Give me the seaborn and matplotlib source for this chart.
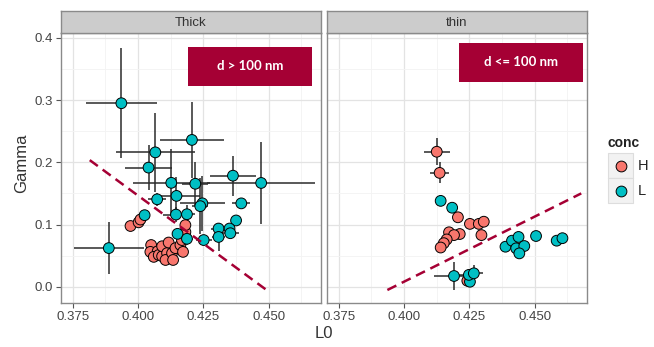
import pandas as pd
import matplotlib
matplotlib.use('agg')
import matplotlib.pyplot as plt
import seaborn as sns
from matplotlib.patches import Rectangle

# ---- data ----
# Thick films, conc = L  (L0, Gamma, L0 error, Gamma error)
thick_L_x = [0.3936, 0.3888, 0.4206, 0.4066, 0.4040, 0.4127, 0.4219, 0.4363, 0.4471, 0.4073,
             0.4147, 0.4246, 0.4238, 0.4395, 0.4145, 0.4187, 0.4025, 0.4375, 0.4151, 0.4187,
             0.4251, 0.4308, 0.4308, 0.4350, 0.4353]
thick_L_y = [0.2950, 0.0621, 0.2360, 0.2160, 0.1915, 0.1670, 0.1655, 0.1785, 0.1668, 0.1405,
             0.1460, 0.1340, 0.1295, 0.1340, 0.1160, 0.1165, 0.1150, 0.1065, 0.0850, 0.0770,
             0.0750, 0.0935, 0.0800, 0.0935, 0.0860]
thick_L_xerr = [0.0137, 0.0135, 0.0122, 0.0150, 0.0090, 0.0147, 0.0050, 0.0088, 0.0206, 0.0035,
                0.0090, 0.0086, 0.0030, 0.0035, 0.0050, 0.0030, 0.0015, 0.0020, 0.0020, 0.0025,
                0.0030, 0.0030, 0.0025, 0.0020, 0.0035]
thick_L_yerr = [0.088, 0.042, 0.061, 0.063, 0.036, 0.054, 0.035, 0.032, 0.066, 0.010,
                0.030, 0.044, 0.045, 0.008, 0.012, 0.015, 0.004, 0.005, 0.008, 0.010,
                0.004, 0.005, 0.022, 0.004, 0.005]

# Thick films, conc = H
thick_H_x = [0.3971, 0.4002, 0.4009, 0.4050, 0.4047, 0.4075, 0.4060, 0.4079, 0.4092, 0.4092,
             0.4111, 0.4117, 0.4105, 0.4130, 0.4134, 0.4143, 0.4162, 0.4172, 0.4168, 0.4181, 0.4181]
thick_H_y = [0.0976, 0.1035, 0.1080, 0.0670, 0.0560, 0.0570, 0.0480, 0.0510, 0.0490, 0.0650,
             0.0540, 0.0710, 0.0430, 0.0540, 0.0430, 0.0620, 0.0670, 0.0560, 0.0750, 0.0880, 0.0990]
thick_H_xerr = [0.001] * 21
thick_H_yerr = [0.003] * 21

# Thin films, conc = H
thin_H_x = [0.4125, 0.4136, 0.4206, 0.4252, 0.4286, 0.4305, 0.4296, 0.4172, 0.4213, 0.4191,
            0.4163, 0.4152, 0.4140, 0.4242]
thin_H_y = [0.2170, 0.1830, 0.1116, 0.1010, 0.1010, 0.1045, 0.0830, 0.0875, 0.0847, 0.0830,
            0.0760, 0.0700, 0.0630, 0.0096]
thin_H_xerr = [0.0050, 0.0037, 0.001, 0.001, 0.001, 0.001, 0.001, 0.001, 0.001, 0.001,
               0.001, 0.001, 0.001, 0.001]
thin_H_yerr = [0.022, 0.017, 0.003, 0.003, 0.003, 0.003, 0.008, 0.003, 0.003, 0.003,
               0.003, 0.003, 0.003, 0.003]

# Thin films, conc = L
thin_L_x = [0.4140, 0.4184, 0.4191, 0.4252, 0.4248, 0.4267, 0.4388, 0.4413, 0.4438, 0.4429,
            0.4460, 0.4441, 0.4505, 0.4584, 0.4606]
thin_L_y = [0.1380, 0.1270, 0.0172, 0.0080, 0.0190, 0.0215, 0.0643, 0.0740, 0.0800, 0.0617,
            0.0654, 0.0536, 0.0815, 0.0740, 0.0780]
thin_L_xerr = [0.001, 0.001, 0.0077, 0.001, 0.004, 0.0035, 0.001, 0.001, 0.001, 0.001,
               0.001, 0.001, 0.001, 0.001, 0.001]
thin_L_yerr = [0.002, 0.002, 0.022, 0.002, 0.005, 0.013, 0.002, 0.002, 0.002, 0.002,
               0.002, 0.002, 0.002, 0.002, 0.002]

panels = ['Thick', 'thin']
conc_levels = ['H', 'L']
box_labels = ['d > 100 nm', 'd <= 100 nm']
# dashed guide lines (L0 ends, Gamma ends)
guide_x = [[0.3815, 0.4492], [0.3936, 0.4678]]
guide_y = [[0.2035, -0.0054], [-0.0053, 0.1500]]

groups = [('Thick', 'H', thick_H_x, thick_H_y, thick_H_xerr, thick_H_yerr),
          ('Thick', 'L', thick_L_x, thick_L_y, thick_L_xerr, thick_L_yerr),
          ('thin', 'H', thin_H_x, thin_H_y, thin_H_xerr, thin_H_yerr),
          ('thin', 'L', thin_L_x, thin_L_y, thin_L_xerr, thin_L_yerr)]
frames = []
for panel, conc, x, y, xe, ye in groups:
    frames.append(pd.DataFrame({'panel': panel, 'conc': conc, 'L0': x, 'Gamma': y,
                                'L0_err': xe, 'Gamma_err': ye}))
df = pd.concat(frames, ignore_index=True)

# ---- plot ----
sns.set_theme(style="white")
plt.rcParams['font.family'] = ['Liberation Sans', 'DejaVu Sans']
palette = {'H': '#F8766D', 'L': '#00BFC4'}
crimson = '#A50034'
W, H = 654, 347

fig = plt.figure(figsize=(W / 100, H / 100), dpi=100)
fig.patch.set_facecolor('white')

lefts = [61, 327]
for i, panel in enumerate(panels):
    ax = fig.add_axes([lefts[i] / W, (H - 303) / H, 260 / W, 270 / H])
    sub = df[df.panel == panel]
    ax.errorbar(sub.L0, sub.Gamma, xerr=sub.L0_err, yerr=sub.Gamma_err, fmt='none',
                ecolor='#2B2B2B', elinewidth=1.1, capsize=0, zorder=2)
    sns.scatterplot(data=sub, x='L0', y='Gamma', hue='conc', palette=palette, s=60,
                    edgecolor='black', linewidth=0.7, legend=False, ax=ax, zorder=3)
    ax.plot(guide_x[i], guide_y[i], color=crimson, lw=1.8, dashes=(4, 2.4), zorder=4)

    ax.set_xlim(0.3705, 0.4700)
    ax.set_ylim(-0.0262, 0.4079)
    ax.set_xticks([0.375, 0.400, 0.425, 0.450])
    ax.set_xticks([0.3875, 0.4125, 0.4375, 0.4625], minor=True)
    ax.set_yticks([0.0, 0.1, 0.2, 0.3, 0.4])
    ax.set_yticks([0.05, 0.15, 0.25, 0.35], minor=True)
    ax.set_xticklabels(['0.375', '0.400', '0.425', '0.450'])
    ax.grid(which='major', color='#E3E3E3', lw=0.9, zorder=0)
    ax.grid(which='minor', color='#F3F3F3', lw=0.6, zorder=0)
    ax.set_axisbelow(True)
    for s in ax.spines.values():
        s.set_color('#8A8A8A')
        s.set_linewidth(1.0)
    ax.tick_params(axis='both', which='major', direction='out', length=3.5, width=0.8,
                   color='#555555', labelsize=9.5, labelcolor='#444444', pad=2,
                   bottom=True, left=(i == 0))
    ax.tick_params(which='minor', length=0)
    if i == 0:
        ax.set_yticklabels(['0.0', '0.1', '0.2', '0.3', '0.4'])
    else:
        ax.set_yticklabels([])
    ax.set_xlabel('')
    ax.set_ylabel('')

    # labelled box in the top right corner
    bx = [0.488, 0.508][i]
    by = [0.804, 0.819][i]
    ax.add_patch(Rectangle((bx, by), 0.477, 0.144, transform=ax.transAxes,
                           facecolor=crimson, edgecolor='none', zorder=5))
    ax.text(bx + 0.477 / 2, by + 0.072, box_labels[i], transform=ax.transAxes,
            ha='center', va='center', color='white', fontsize=9.5, fontweight='bold',
            family=['Lato', 'DejaVu Sans'], zorder=6)

    # facet strip
    sax = fig.add_axes([lefts[i] / W, (H - 33) / H, 260 / W, 22 / H])
    sax.set_facecolor('#CCCCCC')
    sax.set_xticks([])
    sax.set_yticks([])
    for s in sax.spines.values():
        s.set_color('#8A8A8A')
        s.set_linewidth(1.0)
    sax.text(0.5, 0.45, panel, ha='center', va='center', fontsize=9.5, color='#333333',
             transform=sax.transAxes)

fig.text(324 / W, 1 - 334 / H, 'L0', ha='center', va='center', fontsize=12, color='#333333')
fig.text(22 / W, 1 - 163 / H, 'Gamma', ha='center', va='center', rotation=90,
         fontsize=12, color='#333333')

# legend
lax = fig.add_axes([0, 0, 1, 1], facecolor='none')
lax.set_xlim(0, W)
lax.set_ylim(H, 0)
lax.axis('off')
lax.text(607, 143, 'conc', ha='left', va='center', fontsize=10, fontweight='bold',
         color='#222222')
for k, conc in enumerate(conc_levels):
    top = 153 + 25 * k
    lax.add_patch(Rectangle((608, top), 25, 25, facecolor='#F2F2F2', edgecolor='#DDDDDD', lw=0.8))
    lax.scatter([620.5], [top + 12.5], s=60, color=palette[conc], edgecolor='black',
                linewidth=0.7, zorder=3)
    lax.text(638, top + 12.5, conc, ha='left', va='center', fontsize=10.5, color='#222222')

fig.savefig('out.png', dpi=100)
